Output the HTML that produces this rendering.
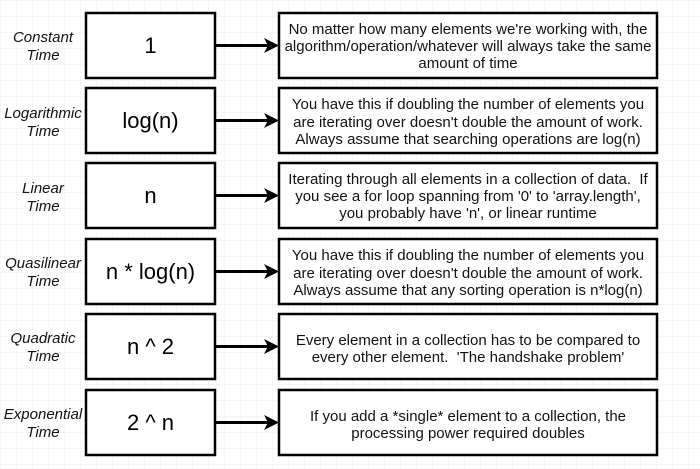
<!DOCTYPE html>
<html><head><style>
html,body{margin:0;padding:0;width:700px;height:469px;overflow:hidden;background:#fff}
svg{display:block;font-family:"Liberation Sans",Arial,sans-serif}
</style></head><body>
<svg width="700" height="469" viewBox="0 0 700 469" xmlns="http://www.w3.org/2000/svg">
<defs>
<pattern id="g" width="16" height="16" patternUnits="userSpaceOnUse">
<path d="M16 0H0V16" fill="none" stroke="#eeeeee" stroke-width="1"/>
</pattern>
</defs>
<rect width="700" height="469" fill="url(#g)"/>
<g stroke="#000" stroke-width="2.5" fill="#fff">
<rect x="86" y="13" width="129" height="65"/><rect x="279" y="13" width="378" height="65"/>
<rect x="86" y="88" width="129" height="65"/><rect x="279" y="88" width="378" height="65"/>
<rect x="86" y="163" width="129" height="65"/><rect x="279" y="163" width="378" height="65"/>
<rect x="86" y="239" width="129" height="65"/><rect x="279" y="239" width="378" height="65"/>
<rect x="86" y="314" width="129" height="65"/><rect x="279" y="314" width="378" height="65"/>
<rect x="86" y="390" width="129" height="65"/><rect x="279" y="390" width="378" height="65"/>
</g>
<g stroke="#000" stroke-width="3">
<line x1="216" y1="45.5" x2="268" y2="45.5"/>
<line x1="216" y1="120.5" x2="268" y2="120.5"/>
<line x1="216" y1="195.5" x2="268" y2="195.5"/>
<line x1="216" y1="271.5" x2="268" y2="271.5"/>
<line x1="216" y1="346.5" x2="268" y2="346.5"/>
<line x1="216" y1="422.5" x2="268" y2="422.5"/>
</g>
<g fill="#000">
<path d="M279 45.5 L264 38 L268 45.5 L264 53Z"/>
<path d="M279 120.5 L264 113 L268 120.5 L264 128Z"/>
<path d="M279 195.5 L264 188 L268 195.5 L264 203Z"/>
<path d="M279 271.5 L264 264 L268 271.5 L264 279Z"/>
<path d="M279 346.5 L264 339 L268 346.5 L264 354Z"/>
<path d="M279 422.5 L264 415 L268 422.5 L264 430Z"/>
</g>
<g font-style="italic" font-size="15" text-anchor="middle" fill="#111">
<text x="43" y="42">Constant</text><text x="43" y="60">Time</text>
<text x="43" y="118">Logarithmic</text><text x="43" y="136">Time</text>
<text x="43" y="193">Linear</text><text x="43" y="211">Time</text>
<text x="43" y="268">Quasilinear</text><text x="43" y="286">Time</text>
<text x="43" y="343">Quadratic</text><text x="43" y="361">Time</text>
<text x="43" y="419">Exponential</text><text x="43" y="437">Time</text>
</g>
<g font-size="22" text-anchor="middle" fill="#000">
<text x="150.5" y="53">1</text>
<text x="150.5" y="128">log(n)</text>
<text x="150.5" y="203">n</text>
<text x="150.5" y="279">n * log(n)</text>
<text x="150.5" y="354">n ^ 2</text>
<text x="150.5" y="430">2 ^ n</text>
</g>
<g font-size="15" text-anchor="middle" fill="#111">
<text x="468" y="34">No matter how many elements we're working with, the</text>
<text x="468" y="51">algorithm/operation/whatever will always take the same</text>
<text x="468" y="68">amount of time</text>
<text x="468" y="109">You have this if doubling the number of elements you</text>
<text x="468" y="127">are iterating over doesn't double the amount of work.</text>
<text x="468" y="144">Always assume that searching operations are log(n)</text>
<text x="468" y="184">Iterating through all elements in a collection of data.&#160; If</text>
<text x="468" y="201">you see a for loop spanning from '0' to 'array.length',</text>
<text x="468" y="218">you probably have 'n', or linear runtime</text>
<text x="468" y="260">You have this if doubling the number of elements you</text>
<text x="468" y="278">are iterating over doesn't double the amount of work.</text>
<text x="468" y="295">Always assume that any sorting operation is n*log(n)</text>
<text x="468" y="345">Every element in a collection has to be compared to</text>
<text x="468" y="362">every other element.&#160; 'The handshake problem'</text>
<text x="468" y="421">If you add a *single* element to a collection, the</text>
<text x="468" y="438">processing power required doubles</text>
</g>
</svg>
</body></html>
